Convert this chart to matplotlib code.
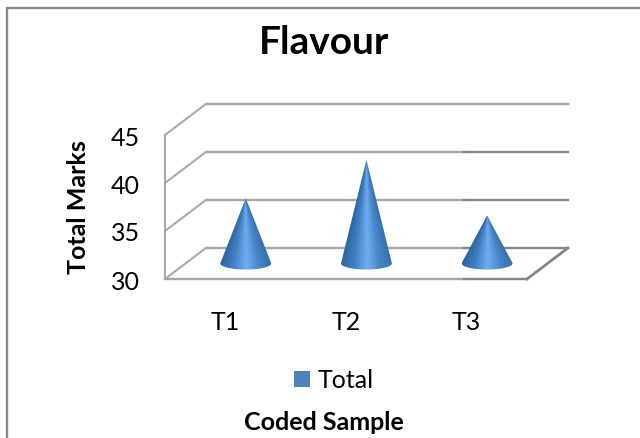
import numpy as np
import matplotlib
matplotlib.use("Agg")
import matplotlib.pyplot as plt
from matplotlib.colors import LinearSegmentedColormap
from matplotlib.lines import Line2D
from matplotlib.patches import Patch, PathPatch
from matplotlib.path import Path

plt.rcParams['font.family'] = ['Lato', 'DejaVu Sans']

categories = ['T1', 'T2', 'T3']
totals = [36.8, 40.8, 35.0]
y_ticks = [30, 35, 40, 45]
series_name = 'Total'

W, H = 640, 439
# 3D look: how far the back wall sits from the front plane, in data units
DEPTH_X = 41 / 121
DEPTH_Y = 31 / 9.6
CONE_A = 25.5 / 121
CONE_B = 6 / 9.6

shade = LinearSegmentedColormap.from_list(
    'cone', [(0.0, '#2c659f'), (0.25, '#4080c2'), (0.52, '#72acf0'),
             (0.75, '#4a87ca'), (1.0, '#3570ae')])


def px_x(x):
    return x / W


def px_y(y):
    return 1 - y / H


def draw_cone(ax, x0, value):
    # base sits on the floor half way back
    cx = x0 + DEPTH_X / 2
    y0 = y_ticks[0] + DEPTH_Y / 2
    h = value - y_ticks[0]
    yt = CONE_B ** 2 / h
    xt = CONE_A * np.sqrt(1 - (CONE_B / h) ** 2)
    start = np.arctan2(yt / CONE_B, xt / CONE_A)
    ang = np.linspace(-np.pi - start, start, 60)
    arc_x = cx + CONE_A * np.cos(ang)
    arc_y = y0 + CONE_B * np.sin(ang)
    verts = [(cx, y0 + h)] + list(zip(arc_x, arc_y)) + [(cx, y0 + h)]
    clip = PathPatch(Path(verts), transform=ax.transData, fc='none', ec='none')
    ax.add_patch(clip)

    xs = np.linspace(cx - CONE_A, cx + CONE_A, 240)
    ys = np.linspace(y0 - CONE_B, y0 + h, 240)
    gx, gy = np.meshgrid(xs, ys)
    half = CONE_A * np.clip((y0 + h - gy) / h, 0.004, 1)
    u = np.clip((gx - cx) / half, -1, 1)
    im = ax.imshow((u + 1) / 2, cmap=shade, vmin=0, vmax=1, origin='lower', aspect='auto',
                   extent=[xs[0], xs[-1], ys[0], ys[-1]], interpolation='bilinear', zorder=3)
    im.set_clip_path(clip)


fig = plt.figure(figsize=(W / 100, H / 100), dpi=100, facecolor='white')
# the axes is the front plane of the 3D box
ax = fig.add_axes([px_x(165), px_y(280), 362 / W, 144 / H])
ax.set_xlim(-0.5, 2.5)
ax.set_ylim(y_ticks[0], y_ticks[-1])
for s in ax.spines.values():
    s.set_visible(False)
ax.patch.set_alpha(0)

light = '#a6a6a6'
dark = '#868686'
x_left = -0.5
x_right = 2.5
x_join = 1.98
for t in y_ticks:
    right_col = light if t == y_ticks[-1] else dark
    ax.plot([x_left + DEPTH_X, x_join], [t + DEPTH_Y] * 2, color=light, lw=1.7, clip_on=False, zorder=1)
    ax.plot([x_join, x_right + DEPTH_X], [t + DEPTH_Y] * 2, color=right_col, lw=1.7, clip_on=False, zorder=1)
    ax.plot([x_left, x_left + DEPTH_X], [t, t + DEPTH_Y], color=light, lw=1.4, clip_on=False, zorder=1)
ax.plot([x_left, x_left], [y_ticks[0], y_ticks[-1]], color=light, lw=1.4, clip_on=False, zorder=1)
ax.plot([x_left, x_join], [y_ticks[0]] * 2, color=light, lw=1.7, clip_on=False, zorder=1)
ax.plot([x_join, x_right], [y_ticks[0]] * 2, color=dark, lw=1.7, clip_on=False, zorder=1)
ax.plot([x_right, x_right + DEPTH_X], [y_ticks[0], y_ticks[0] + DEPTH_Y], color=dark, lw=2, clip_on=False, zorder=1)

for i, v in enumerate(totals):
    draw_cone(ax, i, v)
ax.set_xlim(-0.5, 2.5)
ax.set_ylim(y_ticks[0], y_ticks[-1])

ax.set_xticks(range(len(categories)), categories)
ax.set_yticks(y_ticks)
ax.tick_params(axis='both', length=0, labelsize=18, colors='black')
ax.tick_params(axis='y', pad=18)
ax.tick_params(axis='x', pad=22)

fig.text(px_x(324), px_y(43), 'Flavour', ha='center', va='center', fontsize=28, fontweight='bold')
fig.text(px_x(78), px_y(207), 'Total Marks', rotation=90, ha='center', va='center', fontsize=18, fontweight='bold')
fig.text(px_x(323.5), px_y(423), 'Coded Sample', ha='center', va='center', fontsize=18, fontweight='bold')

fig.legend(handles=[Patch(fc='#4f81bd', ec='none', label=series_name)], loc='center',
           bbox_to_anchor=(px_x(334), px_y(381)), frameon=False, fontsize=18,
           handlelength=0.62, handleheight=0.62, handletextpad=0.3)

# chart frame, only top and left edges fall inside the picture
fig.add_artist(Line2D([px_x(7), px_x(7), 1], [0, px_y(9), px_y(9)], color='#868686', lw=1.7,
                      transform=fig.transFigure, solid_joinstyle='miter'))

fig.savefig('out.png', dpi=100)
